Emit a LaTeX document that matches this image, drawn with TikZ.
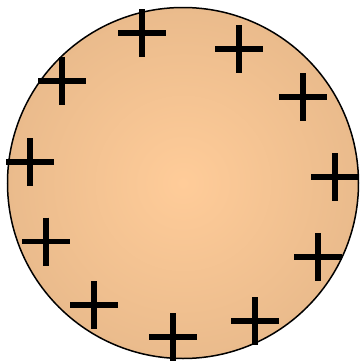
\documentclass[tikz,border=0pt]{standalone}
\definecolor{peachin}{RGB}{255,204,153}
\definecolor{peachout}{RGB}{234,187,140}
\tikzset{
  plussign/.pic={\draw[line width=5.8pt,line cap=butt] (-24,0) -- (24,0) (0,-24) -- (0,24);},
  ball/.style={draw=black,line width=1.5pt,inner color=peachin,outer color=peachout}
}
\begin{document}
\begin{tikzpicture}[x=1pt,y=-1pt]
\useasboundingbox (0,0) rectangle (362,362);
\path[ball] (183,183) circle[radius=175.5];
\foreach \px/\py in {142/33, 239/49, 303/97, 335/177, 318/257, 255/321, 173/337, 94/305, 46/241.5, 30/162, 62/81}
  \pic at (\px,\py) {plussign};
\end{tikzpicture}
\end{document}
